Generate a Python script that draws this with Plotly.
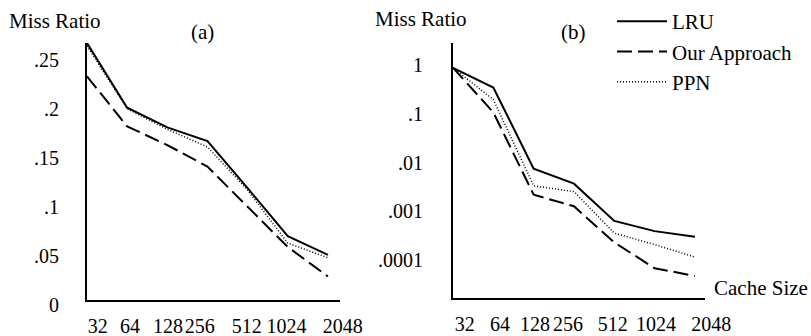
import plotly.graph_objects as go

# ---- data ----
cache_sizes = ["32", "64", "128", "256", "512", "1024", "2048"]
x_idx = list(range(len(cache_sizes)))

# (a) linear miss ratio
lru_a = [0.262, 0.196, 0.176, 0.162, 0.114, 0.065, 0.046]
our_a = [0.228, 0.177, 0.158, 0.136, 0.095, 0.054, 0.024]
ppn_a = [0.259, 0.195, 0.174, 0.156, 0.112, 0.058, 0.043]

# (b) log miss ratio
lru_b = [0.76, 0.30, 0.0065, 0.0032, 0.00055, 0.00034, 0.00026]
our_b = [0.76, 0.093, 0.0019, 0.0011, 0.00020, 0.000059, 0.000041]
ppn_b = [0.76, 0.17, 0.0029, 0.0022, 0.00031, 0.00018, 0.00010]

ytick_a_vals = [0, 0.05, 0.1, 0.15, 0.2, 0.25]
ytick_a_text = ["0", ".05", ".1", ".15", ".2", ".25"]
ytick_b_vals = [1, 0.1, 0.01, 0.001, 0.0001]
ytick_b_text = ["1", ".1", ".01", ".001", ".0001"]

series_names = ["LRU", "Our Approach", "PPN"]

# ---- layout-only: where the cache-size labels sit along each x axis ----
# (the original typesets the labels as a spaced text row, not exactly under the points)
label_pos_a = [0.07, 0.87, 1.82, 2.61, 3.78, 4.77, 6.17]
label_pos_b = [0.07, 0.94, 1.81, 2.63, 3.74, 4.81, 6.18]

# ---- figure ----
W, H = 811, 336
FONT = "Liberation Serif"
fig = go.Figure()

styles = {
    "LRU": dict(color="black", width=2, dash="solid"),
    "Our Approach": dict(color="black", width=2, dash="15px,6px"),
    "PPN": dict(color="black", width=1.5, dash="1px,2px"),
}

for name, ya, yb in zip(series_names, [lru_a, our_a, ppn_a], [lru_b, our_b, ppn_b]):
    fig.add_trace(go.Scatter(x=x_idx, y=ya, mode="lines", name=name,
                             line=styles[name], xaxis="x", yaxis="y",
                             showlegend=False))
    fig.add_trace(go.Scatter(x=x_idx, y=yb, mode="lines", name=name,
                             line=styles[name], xaxis="x2", yaxis="y2",
                             showlegend=True))

axis_common = dict(showgrid=False, zeroline=False, showline=True,
                   linecolor="black", linewidth=2, ticks="",
                   automargin=False, tickangle=0,
                   tickfont=dict(family=FONT, size=20, color="black"))

fig.update_layout(
    width=W, height=H,
    margin=dict(l=0, r=0, t=0, b=0, autoexpand=False),
    paper_bgcolor="white", plot_bgcolor="white",
    font=dict(family=FONT, size=20, color="black"),
    xaxis=dict(domain=[87 / W, 340 / W], range=[0, 6.3], anchor="y",
               tickvals=label_pos_a, ticktext=cache_sizes, ticklabelstandoff=7,
               ticklabelshift=8, **axis_common),
    yaxis=dict(domain=[(H - 300) / H, (H - 43) / H], range=[0, 0.262],
               anchor="x", tickvals=ytick_a_vals, ticktext=ytick_a_text,
               ticklabelshift=5, ticklabelstandoff=22, **axis_common),
    xaxis2=dict(domain=[453 / W, 705 / W], range=[0, 6.25], anchor="y2",
                tickvals=label_pos_b, ticktext=cache_sizes, ticklabelstandoff=7,
                ticklabelshift=9, **axis_common),
    yaxis2=dict(domain=[(H - 298) / H, (H - 43) / H], type="log",
                range=[-4.84, 0.39], anchor="x2",
                tickvals=ytick_b_vals, ticktext=ytick_b_text,
                ticklabelshift=3, ticklabelstandoff=24, **axis_common),
    legend=dict(x=612 / W, y=1 - 1 / H, xanchor="left", yanchor="top",
                bgcolor="rgba(0,0,0,0)", font=dict(family=FONT, size=21),
                tracegroupgap=0, itemwidth=50),
    showlegend=True,
)

def note(text, xc, yc):
    fig.add_annotation(text=text, x=xc / W, y=1 - yc / H, xref="paper",
                       yref="paper", showarrow=False, xanchor="center",
                       yanchor="middle",
                       font=dict(family=FONT, size=21, color="black"))

note("Miss Ratio", 55, 21)
note("Miss Ratio", 421, 19)
note("(a)", 202, 32)
note("(b)", 573, 32)
note("Cache Size", 761, 288)

fig.write_html("out.html",
               config={"displayModeBar": False},
               post_script="document.body.style.margin='0';"
                           "document.body.style.overflow='hidden';")
